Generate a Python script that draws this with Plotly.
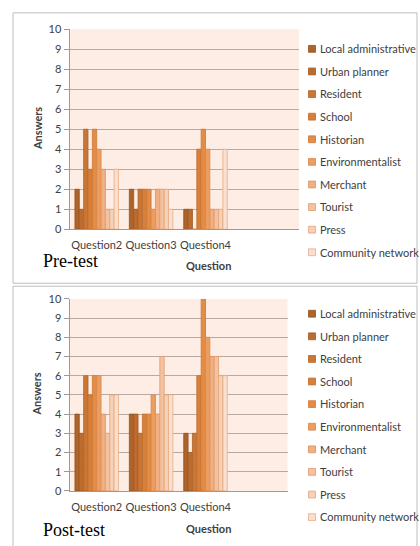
import plotly.graph_objects as go

W, H = 420, 546

questions = ["Question2", "Question3", "Question4"]
series = ["Local administrative", "Urban planner", "Resident", "School", "Historian",
          "Environmentalist", "Merchant", "Tourist", "Press", "Community network"]

# values per question, in series order
pre_q2 = [2, 1, 5, 3, 5, 4, 3, 1, 1, 3]
pre_q3 = [2, 1, 2, 2, 2, 1, 2, 2, 2, 1]
pre_q4 = [1, 1, 0, 4, 5, 4, 1, 1, 1, 4]
post_q2 = [4, 3, 6, 5, 6, 6, 4, 3, 5, 5]
post_q3 = [4, 4, 3, 4, 4, 5, 4, 7, 5, 5]
post_q4 = [3, 2, 3, 6, 10, 8, 7, 7, 6, 6]

y_ticks = list(range(0, 11))

fills = ["#AD632A", "#BC6C2E", "#CA7634", "#D8803A", "#E48C46", "#EC9E60",
         "#F0B083", "#F3C2A1", "#F6D1B9", "#F9DFD0"]
edges = ["#92521F", "#A05B24", "#B0652A", "#BF6F31", "#CC7938", "#D9874C",
         "#DE915D", "#E29C6B", "#E5A577", "#E8AD83"]

FONT = "Lato"
TXT = "#404040"


def px(x):
    return x / W


def py(y):
    return 1 - y / H


fig = go.Figure()

panels = [
    ("x", "y", [pre_q2, pre_q3, pre_q4]),
    ("x2", "y2", [post_q2, post_q3, post_q4]),
]
for xa, ya, data in panels:
    for i, name in enumerate(series):
        fig.add_trace(go.Bar(
            x=questions,
            y=[data[0][i], data[1][i], data[2][i]],
            name=name,
            xaxis=xa, yaxis=ya,
            marker=dict(color=fills[i], line=dict(color=edges[i], width=0.8)),
            showlegend=False,
        ))

spacing = 54.4
x0_px = 69.5
top_right, bot_right = 299.0, 287.5

axis_common = dict(
    showline=True, linecolor="#9A9A9A", linewidth=1,
    tickfont=dict(family=FONT, size=11, color=TXT),
    showgrid=False, zeroline=False, fixedrange=True,
    ticks="outside", ticklen=6, tickcolor="rgba(0,0,0,0)",
)
yaxis_common = dict(
    range=[0, 10], tickvals=y_ticks, showline=True, linecolor="#9A9A9A", linewidth=1,
    ticks="outside", ticklen=5, tickcolor="#9A9A9A",
    tickfont=dict(family=FONT, size=11, color=TXT),
    showgrid=True, gridcolor="#B7AAA4", gridwidth=1, zeroline=False, fixedrange=True,
)

fig.update_layout(
    width=W, height=H,
    margin=dict(l=0, r=0, t=0, b=0),
    paper_bgcolor="white",
    plot_bgcolor="#FDEDE5",
    barmode="group", bargap=0.2, bargroupgap=0,
    showlegend=False,
    xaxis=dict(domain=[px(x0_px), px(top_right)],
               range=[-0.5, -0.5 + (top_right - x0_px) / spacing], anchor="y", **axis_common),
    yaxis=dict(domain=[py(227.7), py(22.7)], anchor="x", **yaxis_common),
    xaxis2=dict(domain=[px(x0_px), px(bot_right)],
                range=[-0.5, -0.5 + (bot_right - x0_px) / spacing], anchor="y2", **axis_common),
    yaxis2=dict(domain=[py(495.7), py(299)], anchor="x2", **yaxis_common),
)

shapes = []
annotations = []

# panel frames
for top, bottom in [(6, 283), (286, 560)]:
    shapes.append(dict(type="rect", xref="paper", yref="paper",
                       x0=px(13), x1=px(417), y0=py(bottom), y1=py(top),
                       line=dict(color="#BDBDBD", width=1), fillcolor="rgba(0,0,0,0)",
                       layer="below"))

# legends (manual, one per panel)
for start in [42.7, 314.0]:
    for i, name in enumerate(series):
        yc = start + i * 23.15
        shapes.append(dict(type="rect", xref="paper", yref="paper",
                           x0=px(308.5), x1=px(315.5), y0=py(yc + 3.7), y1=py(yc - 3.3),
                           fillcolor=fills[i], line=dict(color=edges[i], width=0.8)))
        annotations.append(dict(text=name, x=px(317.5), y=py(yc), xref="paper", yref="paper",
                                xanchor="left", yanchor="middle", showarrow=False,
                                font=dict(family=FONT, size=11, color=TXT)))

for label, ytitle, yq in [("Pre-test", 125, 264.3), ("Post-test", 397, 534.3)]:
    annotations.append(dict(text="<b>Answers</b>", x=px(37), y=py(ytitle), xref="paper", yref="paper",
                            textangle=-90, showarrow=False, xanchor="center", yanchor="middle",
                            font=dict(family=FONT, size=11, color=TXT)))
    annotations.append(dict(text="<b>Question</b>", x=px(208), y=py(yq), xref="paper", yref="paper",
                            showarrow=False, xanchor="center", yanchor="middle",
                            font=dict(family=FONT, size=11, color=TXT)))

annotations.append(dict(text="Pre-test", x=px(41), y=py(260.5), xref="paper", yref="paper",
                        showarrow=False, xanchor="left", yanchor="middle",
                        font=dict(family="Liberation Serif", size=18, color="black")))
annotations.append(dict(text="Post-test", x=px(41), y=py(536), xref="paper", yref="paper",
                        showarrow=False, xanchor="left", yanchor="middle",
                        font=dict(family="Liberation Serif", size=18, color="black")))

fig.update_layout(shapes=shapes, annotations=annotations)

fig.write_html("out.html", config={"displayModeBar": False},
               post_script="document.body.style.margin='0';document.body.style.overflow='hidden';")
